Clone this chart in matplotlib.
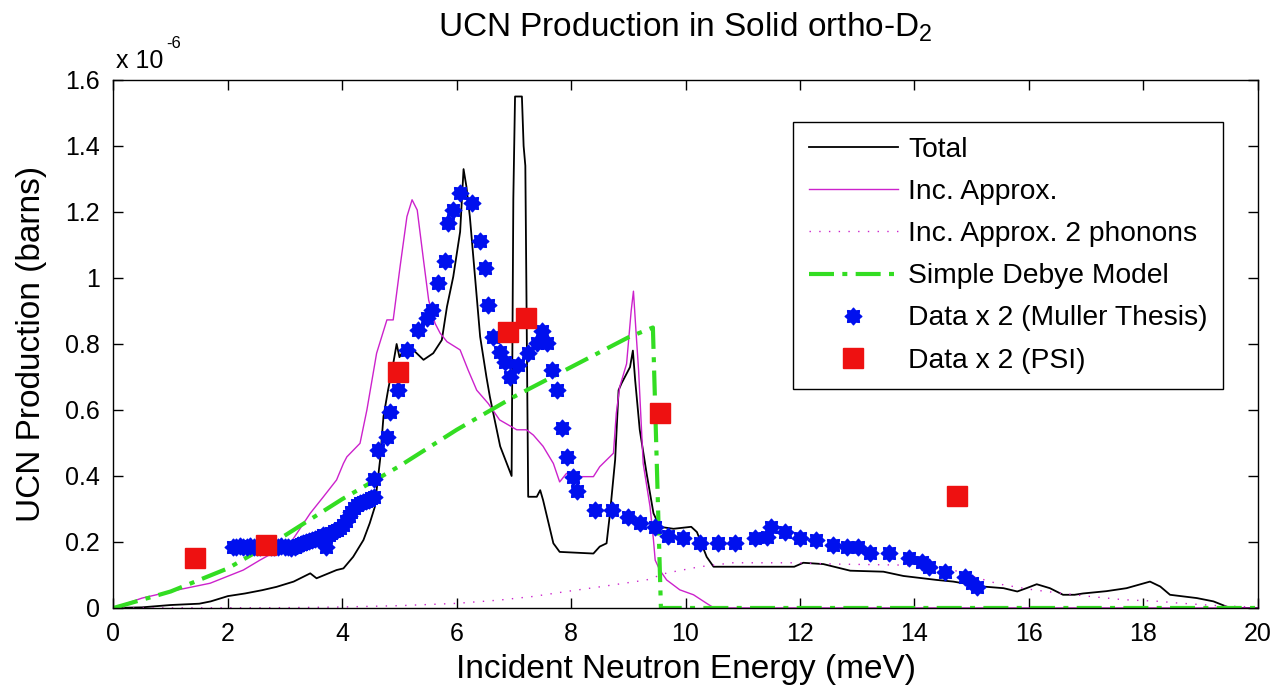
import matplotlib
matplotlib.use("Agg")
import matplotlib.pyplot as plt
from matplotlib.path import Path

plt.rcParams['font.family'] = ['Liberation Sans', 'DejaVu Sans']
plt.rcParams['mathtext.fontset'] = 'custom'
plt.rcParams['mathtext.rm'] = 'Liberation Sans'
plt.rcParams['mathtext.it'] = 'Liberation Sans:italic'

# all production values in units of 1e-6 barns
total_e = [0, 0.5, 1.0, 1.5, 1.7, 2.0, 2.3, 2.6, 2.85, 3.15, 3.44, 3.55, 3.9, 4.02,
           4.19, 4.37, 4.48, 4.57, 4.6, 4.66, 4.72, 4.8, 4.9, 4.95, 5.0, 5.1, 5.24,
           5.42, 5.59, 5.74, 5.83, 5.94, 6.06, 6.12, 6.17, 6.23, 6.32, 6.41, 6.52,
           6.58, 6.76, 6.96, 6.99, 7.02, 7.14, 7.17, 7.2, 7.25, 7.4, 7.46, 7.51,
           7.69, 7.8, 8.39, 8.5, 8.62, 8.68, 8.77, 8.83, 8.88, 9.03, 9.08, 9.12,
           9.2, 9.32, 9.44, 9.55, 9.79, 10.1, 10.2, 10.37, 10.49, 11.9, 12.06,
           12.41, 12.88, 13.46, 13.81, 14.39, 14.68, 15.2, 15.56, 15.8, 15.96,
           16.14, 16.37, 16.6, 16.8, 16.95, 17.36, 17.71, 18.12, 18.3, 18.47,
           18.94, 19.23, 19.46, 19.58, 20]
total_p = [0, 0.002, 0.009, 0.013, 0.02, 0.036, 0.044, 0.054, 0.064, 0.08, 0.105,
           0.09, 0.115, 0.12, 0.155, 0.206, 0.257, 0.307, 0.357, 0.448, 0.58, 0.66,
           0.75, 0.8, 0.76, 0.79, 0.782, 0.752, 0.772, 0.812, 0.913, 1.004, 1.14,
           1.33, 1.277, 1.186, 1.004, 0.822, 0.70, 0.64, 0.49, 0.40, 1.24, 1.55,
           1.55, 1.40, 1.34, 0.337, 0.337, 0.357, 0.327, 0.196, 0.17, 0.165, 0.186,
           0.196, 0.287, 0.449, 0.66, 0.68, 0.73, 0.78, 0.69, 0.54, 0.408, 0.287,
           0.246, 0.24, 0.246, 0.23, 0.155, 0.125, 0.125, 0.137, 0.133, 0.113,
           0.11, 0.097, 0.085, 0.08, 0.065, 0.06, 0.05, 0.06, 0.072, 0.06, 0.04,
           0.04, 0.044, 0.051, 0.06, 0.08, 0.065, 0.04, 0.03, 0.02, 0.004, 0, 0]

inc_e = [0, 0.06, 0.5, 1.1, 1.69, 2.27, 2.56, 3.09, 3.44, 3.67, 3.9, 4.02, 4.08,
         4.31, 4.43, 4.6, 4.78, 4.89, 5.01, 5.13, 5.22, 5.31, 5.42, 5.51, 5.62,
         5.71, 5.83, 6.06, 6.2, 6.35, 6.55, 6.75, 7.05, 7.22, 7.34, 7.51, 7.69,
         7.8, 7.92, 8.04, 8.39, 8.5, 8.74, 8.79, 8.85, 8.97, 9.05, 9.09, 9.13,
         9.18, 9.26, 9.38, 9.44, 9.47, 9.55, 9.67, 9.9, 10.14, 10.37, 10.5, 20]
inc_p = [0, 0.004, 0.03, 0.054, 0.075, 0.115, 0.145, 0.196, 0.287, 0.337, 0.388,
         0.438, 0.458, 0.499, 0.6, 0.772, 0.873, 0.873, 1.034, 1.186, 1.237,
         1.206, 1.054, 0.933, 0.863, 0.833, 0.807, 0.782, 0.721, 0.66, 0.62,
         0.57, 0.54, 0.54, 0.524, 0.49, 0.438, 0.382, 0.408, 0.398, 0.398, 0.428,
         0.469, 0.59, 0.67, 0.74, 0.9, 0.96, 0.85, 0.72, 0.438, 0.307, 0.206,
         0.145, 0.115, 0.085, 0.055, 0.04, 0.014, 0, 0]

two_ph_e = [0, 3, 4, 5, 6, 6.75, 7.34, 7.92, 8.5, 9.32, 9.67, 10.25, 10.83, 11.9,
            12.64, 13.8, 14.68, 15.32, 15.56, 16.08, 16.55, 17.07, 17.66, 18.3,
            18.53, 19.2, 20]
two_ph_p = [0, 0.001, 0.003, 0.007, 0.014, 0.024, 0.035, 0.05, 0.064, 0.085, 0.106,
            0.125, 0.137, 0.137, 0.133, 0.13, 0.115, 0.08, 0.07, 0.055, 0.045,
            0.035, 0.025, 0.02, 0.016, 0.008, 0.002]

debye_e = [0, 1, 2, 3, 4, 5, 6, 7, 8, 9, 9.43, 9.57, 20]
debye_p = [0, 0.05, 0.12, 0.22, 0.33, 0.43, 0.54, 0.64, 0.73, 0.82, 0.85, 0, 0]

muller_e = [2.09, 2.15, 2.21, 2.27, 2.33, 2.39, 2.45, 2.51, 2.57, 2.63, 2.69, 2.75,
            2.81, 2.87, 2.93, 2.99, 3.05, 3.11, 3.17, 3.22, 3.27, 3.32, 3.37, 3.42,
            3.47, 3.52, 3.57, 3.62, 3.67, 3.72, 3.76, 3.81, 3.86, 3.91, 3.96, 4.01,
            4.06, 4.11, 4.16, 4.21, 4.26, 4.31, 4.36, 4.41, 4.46, 4.51, 4.56, 4.55,
            4.63, 4.79, 4.83, 4.98, 5.13, 5.33, 5.48, 5.56, 5.68, 5.8, 5.85, 5.94,
            6.06, 6.26, 6.41, 6.5, 6.55, 6.64, 6.76, 6.84, 6.93, 7.08, 7.25, 7.4,
            7.49, 7.57, 7.66, 7.75, 7.84, 7.92, 8.04, 8.11, 8.42, 8.71, 9.0, 9.2,
            9.47, 9.7, 9.96, 10.25, 10.57, 10.87, 11.21, 11.43, 11.49, 11.74, 12.0,
            12.29, 12.57, 12.83, 13.02, 13.23, 13.55, 13.9, 14.13, 14.25, 14.54,
            14.89, 15.0, 15.09]
muller_p = [0.186, 0.186, 0.187, 0.186, 0.186, 0.187, 0.186, 0.185, 0.186, 0.188,
            0.187, 0.186, 0.186, 0.185, 0.187, 0.186, 0.184, 0.182, 0.186, 0.19,
            0.194, 0.197, 0.2, 0.204, 0.205, 0.209, 0.212, 0.215, 0.22, 0.186,
            0.222, 0.228, 0.232, 0.236, 0.243, 0.252, 0.265, 0.28, 0.292, 0.303,
            0.312, 0.318, 0.322, 0.325, 0.328, 0.332, 0.335, 0.39, 0.479, 0.519,
            0.595, 0.66, 0.782, 0.843, 0.878, 0.903, 0.984, 1.05, 1.166, 1.206,
            1.258, 1.226, 1.113, 1.029, 0.918, 0.822, 0.776, 0.746, 0.7, 0.736,
            0.772, 0.802, 0.838, 0.802, 0.721, 0.66, 0.544, 0.458, 0.398, 0.353,
            0.297, 0.297, 0.277, 0.257, 0.246, 0.218, 0.211, 0.196, 0.196, 0.196,
            0.211, 0.216, 0.246, 0.231, 0.213, 0.206, 0.191, 0.184, 0.184, 0.166,
            0.166, 0.15, 0.14, 0.125, 0.11, 0.095, 0.075, 0.065]

psi_e = [1.42, 2.67, 4.98, 6.9, 7.22, 9.55, 14.74]
psi_p = [0.152, 0.19, 0.716, 0.837, 0.878, 0.59, 0.34]

x_ticks = [0, 2, 4, 6, 8, 10, 12, 14, 16, 18, 20]
y_ticks = [0, 0.2, 0.4, 0.6, 0.8, 1.0, 1.2, 1.4, 1.6]
y_tick_labels = ['0', '0.2', '0.4', '0.6', '0.8', '1', '1.2', '1.4', '1.6']

fig = plt.figure(figsize=(12.75, 6.95), dpi=100)
ax = fig.add_axes([0.089, 0.1252, 0.8973, 0.7597])

star = Path.unit_regular_star(8, 0.72)

ax.plot(total_e, total_p, color='black', lw=1.3, label='Total')
ax.plot(inc_e, inc_p, color='#cc22cc', lw=1.0, label='Inc. Approx.')
ax.plot(two_ph_e, two_ph_p, color='#cc22cc', lw=1.0, linestyle=(0, (1, 6)),
        label='Inc. Approx. 2 phonons')
ax.plot(debye_e, debye_p, color='#33dd22', lw=3.0, linestyle=(0, (6, 2, 1.2, 2)),
        label='Simple Debye Model')
ax.plot(muller_e, muller_p, linestyle='None', marker=star, ms=12, color='#0010ee',
        mec='#0010ee', label='Data x 2 (Muller Thesis)')
ax.plot(psi_e, psi_p, linestyle='None', marker='s', ms=14, color='#ee1111',
        mec='#ee1111', label='Data x 2 (PSI)')

ax.set_xlim(0, 20)
ax.set_ylim(0, 1.6)
ax.set_xticks(x_ticks)
ax.set_yticks(y_ticks)
ax.set_yticklabels(y_tick_labels)
ax.tick_params(direction='in', length=7, width=1, top=True, right=True,
               labelsize=18, pad=10)
for s in ax.spines.values():
    s.set_linewidth(1.0)

ax.set_xlabel('Incident Neutron Energy (meV)', fontsize=24, labelpad=6)
ax.set_ylabel('UCN Production (barns)', fontsize=24)
ax.yaxis.set_label_coords(-0.058, 0.5)
ax.text(0.5, 1.0814, 'UCN Production in Solid ortho-D$_2$', transform=ax.transAxes,
        ha='center', va='baseline', fontsize=24)
# axis multiplier, drawn as plain text with a raised exponent
ax.text(0.002, 1.0227, 'x 10', transform=ax.transAxes,
        ha='left', va='baseline', fontsize=18)
ax.text(0.0465, 1.0606, '-6', transform=ax.transAxes,
        ha='left', va='baseline', fontsize=12)

leg = ax.legend(loc='upper right', bbox_to_anchor=(0.97, 0.921), borderaxespad=0,
                fontsize=20.3, fancybox=False, framealpha=1, edgecolor='black',
                handlelength=3.17, handletextpad=0.36, labelspacing=0.57,
                borderpad=0.55, numpoints=1)
leg.get_frame().set_linewidth(1.0)

fig.savefig('out.png', dpi=100)
